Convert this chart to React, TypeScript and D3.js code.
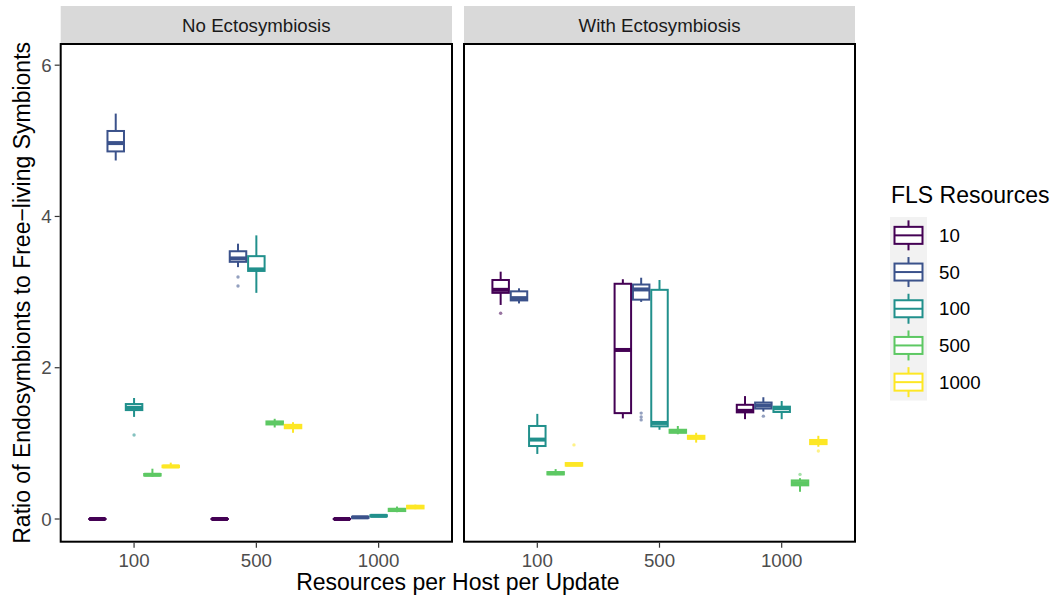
import React from "react";
import * as d3 from "d3";

// ---------- DATA ----------
const panels = ["No Ectosymbiosis", "With Ectosymbiosis"];
const resources = ["100", "500", "1000"];
const flsLevels = ["10", "50", "100", "500", "1000"];
const flsColors = ["#440154", "#3B528B", "#21908C", "#5DC863", "#FDE725"];
const yTicks = [0, 2, 4, 6];

// rows: [resourceIndex, flsIndex, lowerWhisker, q1, median, q3, upperWhisker]
const noEctoStats: number[][] = [
  [0, 0, 0, 0, 0, 0, 0],
  [0, 1, 4.74, 4.86, 4.97, 5.13, 5.36],
  [0, 2, 1.35, 1.44, 1.47, 1.52, 1.6],
  [0, 3, 0.56, 0.575, 0.585, 0.595, 0.665],
  [0, 4, 0.68, 0.685, 0.695, 0.705, 0.745],
  [1, 0, 0, 0, 0, 0, 0],
  [1, 1, 3.33, 3.4, 3.445, 3.54, 3.64],
  [1, 2, 2.99, 3.28, 3.3, 3.475, 3.75],
  [1, 3, 1.21, 1.25, 1.27, 1.29, 1.325],
  [1, 4, 1.14, 1.2, 1.22, 1.245, 1.28],
  [2, 0, 0, 0, 0, 0, 0],
  [2, 1, 0.005, 0.015, 0.022, 0.03, 0.035],
  [2, 2, 0.025, 0.035, 0.042, 0.05, 0.06],
  [2, 3, 0.09, 0.105, 0.12, 0.135, 0.165],
  [2, 4, 0.13, 0.14, 0.16, 0.175, 0.19],
];
const withEctoStats: number[][] = [
  [0, 0, 2.83, 2.99, 3.03, 3.16, 3.27],
  [0, 1, 2.85, 2.89, 2.92, 3.01, 3.05],
  [0, 2, 0.86, 0.965, 1.05, 1.23, 1.39],
  [0, 3, 0.58, 0.59, 0.605, 0.62, 0.66],
  [0, 4, 0.7, 0.705, 0.72, 0.74, 0.75],
  [1, 0, 1.33, 1.4, 2.235, 3.11, 3.17],
  [1, 1, 2.87, 2.9, 3.035, 3.1, 3.19],
  [1, 2, 1.18, 1.225, 1.27, 3.03, 3.16],
  [1, 3, 1.12, 1.14, 1.16, 1.18, 1.23],
  [1, 4, 1.01, 1.06, 1.08, 1.1, 1.14],
  [2, 0, 1.32, 1.41, 1.43, 1.51, 1.625],
  [2, 1, 1.42, 1.46, 1.5, 1.54, 1.61],
  [2, 2, 1.32, 1.415, 1.465, 1.485, 1.56],
  [2, 3, 0.36, 0.445, 0.475, 0.51, 0.54],
  [2, 4, 0.955, 0.99, 1.02, 1.045, 1.1],
];
// rows: [resourceIndex, flsIndex, value]
const noEctoOutliers: number[][] = [
  [0, 2, 1.11],
  [1, 1, 3.2],
  [1, 1, 3.08],
];
const withEctoOutliers: number[][] = [
  [0, 0, 2.72],
  [0, 4, 0.98],
  [1, 1, 1.4],
  [1, 1, 1.35],
  [1, 1, 1.31],
  [2, 1, 1.36],
  [2, 3, 0.59],
  [2, 4, 0.9],
];

// ---------- LAYOUT ----------
const W = 1055;
const H = 601;
const panelTop = 44;
const panelBottom = 541.7;
const stripTop = 6;
const panelX = [
  [60.7, 452],
  [464, 855],
];
const FONT = "'Liberation Sans', Arial, Helvetica, sans-serif";

const y = d3.scaleLinear().domain([-0.3, 6.28]).range([panelBottom, panelTop]);

function Panel({ idx, stats, outliers }: { idx: number; stats: number[][]; outliers: number[][] }) {
  const [x0, x1] = panelX[idx];
  const x = d3
    .scalePoint<string>()
    .domain(resources)
    .range([x0, x1])
    .padding(0.6);
  const step = x.step();
  const slot = 0.15 * step;
  const bw = 0.9 * slot;
  const cx = (r: number, f: number) => (x(resources[r]) as number) + (f - 2) * slot;
  return (
    <g>
      {/* strip */}
      <rect x={x0} y={stripTop} width={x1 - x0} height={panelTop - stripTop} fill="#d9d9d9" />
      <text x={(x0 + x1) / 2} y={32} textAnchor="middle" fontSize={18.7} fill="#1a1a1a" fontFamily={FONT}>
        {panels[idx]}
      </text>
      {/* boxes */}
      {stats.map((s, i) => {
        const [r, f, lo, q1, med, q3, hi] = s;
        const c = cx(r, f);
        const col = flsColors[f];
        return (
          <g key={i}>
            <line x1={c} x2={c} y1={y(hi)} y2={y(q3)} stroke={col} strokeWidth={2} />
            <line x1={c} x2={c} y1={y(q1)} y2={y(lo)} stroke={col} strokeWidth={2} />
            <rect
              x={c - bw / 2}
              y={y(q3)}
              width={bw}
              height={Math.max(0.01, y(q1) - y(q3))}
              fill="white"
              stroke={col}
              strokeWidth={2}
            />
            <line x1={c - bw / 2} x2={c + bw / 2} y1={y(med)} y2={y(med)} stroke={col} strokeWidth={4} />
          </g>
        );
      })}
      {outliers.map((o, i) => (
        <circle key={i} cx={cx(o[0], o[1])} cy={y(o[2])} r={1.7} fill={flsColors[o[1]]} opacity={0.55} />
      ))}
      {/* border */}
      <rect x={x0} y={panelTop} width={x1 - x0} height={panelBottom - panelTop} fill="none" stroke="black" strokeWidth={2} />
      {/* x ticks */}
      {resources.map((r) => (
        <g key={r}>
          <line x1={x(r)} x2={x(r)} y1={panelBottom + 1} y2={panelBottom + 6} stroke="#333" strokeWidth={1.2} />
          <text x={x(r)} y={566.5} textAnchor="middle" fontSize={18.7} fill="#4d4d4d" fontFamily={FONT}>
            {r}
          </text>
        </g>
      ))}
      {/* y ticks (left panel only) */}
      {idx === 0 &&
        yTicks.map((t) => (
          <g key={t}>
            <line x1={x0 - 6} x2={x0 - 1} y1={y(t)} y2={y(t)} stroke="#333" strokeWidth={1.2} />
            <text x={x0 - 9} y={y(t)} dy="0.36em" textAnchor="end" fontSize={18.7} fill="#4d4d4d" fontFamily={FONT}>
              {t}
            </text>
          </g>
        ))}
    </g>
  );
}

function Legend() {
  const lx = 890;
  const ly = 217;
  const kh = 36.7;
  const kw = 37;
  return (
    <g>
      <text x={891} y={203} fontSize={23} fill="black" fontFamily={FONT}>
        FLS Resources
      </text>
      <rect x={lx} y={ly} width={kw} height={kh * flsLevels.length} fill="#f2f2f2" />
      {flsLevels.map((lab, i) => {
        const cy = ly + kh * (i + 0.5);
        const cxk = lx + kw / 2;
        const col = flsColors[i];
        return (
          <g key={lab}>
            <line x1={cxk} x2={cxk} y1={cy - 15} y2={cy + 15} stroke={col} strokeWidth={2} />
            <rect x={lx + 4.5} y={cy - 8.5} width={kw - 9} height={17} fill="white" stroke={col} strokeWidth={2} />
            <line x1={lx + 4.5} x2={lx + kw - 4.5} y1={cy} y2={cy} stroke={col} strokeWidth={2} />
            <text x={939} y={cy} dy="0.36em" fontSize={18.7} fill="black" fontFamily={FONT}>
              {lab}
            </text>
          </g>
        );
      })}
    </g>
  );
}

export default function App() {
  return (
    <svg width={W} height={H} style={{ position: "absolute", left: 0, top: 0, background: "white" }}>
      <rect width={W} height={H} fill="white" />
      <Panel idx={0} stats={noEctoStats} outliers={noEctoOutliers} />
      <Panel idx={1} stats={withEctoStats} outliers={withEctoOutliers} />
      <text
        transform={`translate(29.5, ${(panelTop + panelBottom) / 2}) rotate(-90)`}
        textAnchor="middle"
        fontSize={23}
        fill="black"
        fontFamily={FONT}
      >
        Ratio of Endosymbionts to Free−living Symbionts
      </text>
      <text x={(60.7 + 855) / 2} y={590} textAnchor="middle" fontSize={23} fill="black" fontFamily={FONT}>
        Resources per Host per Update
      </text>
      <Legend />
    </svg>
  );
}
